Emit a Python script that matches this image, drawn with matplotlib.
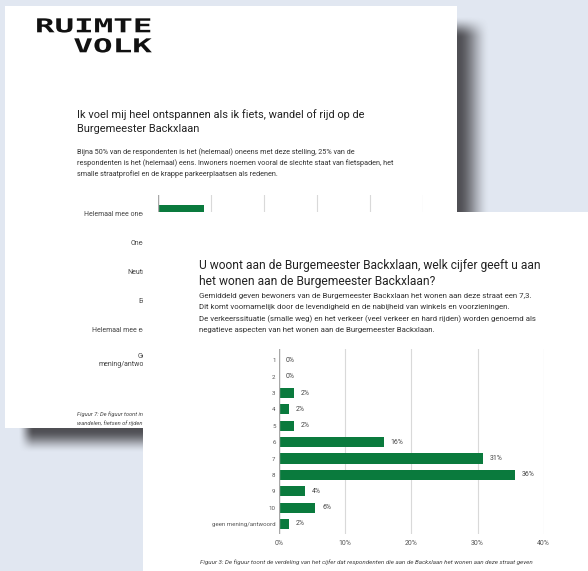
import matplotlib
matplotlib.use("Agg")
import matplotlib.pyplot as plt
import numpy as np
from matplotlib.patches import Rectangle
from matplotlib.patheffects import AbstractPathEffect
from matplotlib.transforms import Affine2D

plt.rcParams['font.family'] = ['Roboto', 'DejaVu Sans']

# ---------------- data ----------------
front_categories = ['1', '2', '3', '4', '5', '6', '7', '8', '9', '10', 'geen mening/antwoord']
front_values = [0, 0, 2.3, 1.5, 2.3, 15.8, 30.9, 35.7, 3.9, 5.5, 1.5]
front_value_labels = ['0%', '0%', '2%', '2%', '2%', '16%', '31%', '36%', '4%', '6%', '2%']
front_ticks = [0, 10, 20, 30, 40]

back_categories = ['Helemaal mee oneens', 'Oneens', 'Neutraal', 'Eens',
                   'Helemaal mee eens', 'Geen\nmening/antwoord']
back_values = [8.7, 39, 22, 20, 5, 5]
back_ticks = [0, 10, 20, 30, 40, 50]

logo_lines = ['RUIMTE', 'VOLK']
back_title = ['Ik voel mij heel ontspannen als ik fiets, wandel of rijd op de',
              'Burgemeester Backxlaan']
back_body = ['Bijna 50% van de respondenten is het (helemaal) oneens met deze stelling, 25% van de',
             'respondenten is het (helemaal) eens. Inwoners noemen vooral de slechte staat van fietspaden, het',
             'smalle straatprofiel en de krappe parkeerplaatsen als redenen.']
back_caption = ['Figuur 7: De figuur toont in hoeverre respondenten zich ontspannen voelen bij het',
                'wandelen, fietsen of rijden op de Burgemeester Backxlaan']
front_title = ['U woont aan de Burgemeester Backxlaan, welk cijfer geeft u aan',
               'het wonen aan de Burgemeester Backxlaan?']
front_body = ['Gemiddeld geven bewoners van de Burgemeester Backxlaan het wonen aan deze straat een 7,3.',
              'Dit komt voornamelijk door de levendigheid en de nabijheid van winkels en voorzieningen.',
              'De verkeerssituatie (smalle weg) en het verkeer (veel verkeer en hard rijden) worden genoemd als',
              'negatieve aspecten van het wonen aan de Burgemeester Backxlaan.']
front_caption = 'Figuur 3: De figuur toont de verdeling van het cijfer dat respondenten die aan de Backxlaan het wonen aan deze straat geven'

# ---------------- style ----------------
BG = '#e1e7f1'
GREEN = '#0a7a3d'
GRID = '#d9d9d9'
AXLINE = '#a8a8a8'
TXT = '#222222'
BODY = '#333333'
TICK = '#555555'
SHADOW = (0.31, 0.31, 0.33)

W, H = 588, 571
fig = plt.figure(figsize=(W / 100, H / 100), dpi=100)
fig.patch.set_facecolor(BG)
R = fig.canvas.get_renderer()


def px_axes(x0, y0, x1, y1, z):
    return fig.add_axes([x0 / W, 1 - y1 / H, (x1 - x0) / W, (y1 - y0) / H], zorder=z)


def canvas_axes(z):
    a = fig.add_axes([0, 0, 1, 1], zorder=z)
    a.set_xlim(0, W)
    a.set_ylim(H, 0)
    a.set_aspect('auto')
    a.axis('off')
    a.patch.set_visible(False)
    return a


def width_at(s, size, **kw):
    t = fig.text(0, 0, s, fontsize=size, **kw)
    w = t.get_window_extent(renderer=R).width
    t.remove()
    return w


def fitsize(s, target, **kw):
    return 10 * target / width_at(s, 10, **kw)


class HStretch(AbstractPathEffect):
    def __init__(self, sx):
        super().__init__()
        self.sx = sx

    def draw_path(self, renderer, gc, tpath, affine, rgbFace=None):
        renderer.draw_path(gc, tpath, Affine2D().scale(self.sx, 1.0) + affine, rgbFace)


# ---------------- back page ----------------
ax0 = canvas_axes(0)
xs = np.arange(W) + 0.5
ys = np.arange(H) + 0.5


def ramp(v, a, b):
    t = np.clip((v - a) / (b - a), 0, 1)
    return t * t * (3 - 2 * t)


alpha = np.outer(ramp(ys, 16, 38) * (1 - ramp(ys, 430, 453)),
                 ramp(xs, 18, 34) * (1 - ramp(xs, 458, 490)))
rgba = np.zeros((H, W, 4))
rgba[..., 0], rgba[..., 1], rgba[..., 2] = SHADOW
rgba[..., 3] = alpha
ax0.imshow(rgba, extent=(0, W, H, 0), zorder=1, interpolation='bilinear', aspect='auto')
ax0.set_xlim(0, W)
ax0.set_ylim(H, 0)
ax0.add_patch(Rectangle((5, 6), 452, 422, facecolor='white', edgecolor='none', zorder=2))

# logo
logo_kw = dict(family='DejaVu Sans Mono', weight='bold')
logo_size = 13.8
for s, x, yb, wt in [(logo_lines[0], 35, 32.3, 117), (logo_lines[1], 73.3, 52.3, 78.4)]:
    sx = wt / width_at(s, logo_size, **logo_kw)
    t = ax0.text(x, yb, s, fontsize=logo_size, color='#111111', ha='left', va='baseline',
                 zorder=3, **logo_kw)
    t.set_path_effects([HStretch(sx)])

bt_size = fitsize(back_title[0], 286)
for s, y in zip(back_title, [115, 128.5]):
    ax0.text(76.7, y, s, fontsize=bt_size, color=TXT, ha='left', va='center', zorder=3)
bb_size = fitsize(back_body[1], 319)
for s, y in zip(back_body, [151.7, 163.3, 174.5]):
    ax0.text(76.7, y, s, fontsize=bb_size, color=BODY, ha='left', va='center', zorder=3)
bc_size = fitsize('Figuur 7: De figuur toont in', 66, style='italic')
for s, y in zip(back_caption, [414.3, 423.3]):
    ax0.text(76.7, y, s, fontsize=bc_size, color='#444444', style='italic',
             ha='left', va='center', zorder=3)

# back chart
axb = px_axes(158, 195, 423, 372, 1)
yb_pos = np.arange(len(back_categories))
axb.barh(yb_pos, back_values, height=0.62, color=GREEN, zorder=3)
axb.set_xlim(0, 50)
axb.set_ylim(-0.655 + 177 / 29, -0.655)
axb.set_xticks(back_ticks)
axb.set_xticklabels([])
axb.grid(axis='x', color=GRID, lw=0.8, zorder=0)
axb.axvline(0, color=AXLINE, lw=1, zorder=4)
for sp in axb.spines.values():
    sp.set_visible(False)
axb.set_yticks(yb_pos)
bl_size = fitsize('mening/antwoord', 56)
axb.set_yticklabels(back_categories, fontsize=bl_size, color='#444444')
axb.tick_params(length=0, pad=3)
axb.patch.set_visible(False)

# ---------------- front page ----------------
ax2 = canvas_axes(2)
ax2.add_patch(Rectangle((143, 212), 450, 365, facecolor='white', edgecolor='none', zorder=1))
ft_size = fitsize(front_title[0], 343)
for s, y in zip(front_title, [265, 281.5]):
    ax2.text(199.3, y, s, fontsize=ft_size, color=TXT, ha='left', va='center', zorder=3)
fb_size = fitsize(front_body[0], 334)
for s, y in zip(front_body, [296.3, 307.5, 318.8, 330.2]):
    ax2.text(199.3, y, s, fontsize=fb_size, color=BODY, ha='left', va='center', zorder=3)
fc_size = fitsize(front_caption, 330.7, style='italic')
ax2.text(200, 562, front_caption, fontsize=fc_size, color='#444444', style='italic',
         ha='left', va='center', zorder=3)

# front chart
axf = px_axes(279, 349, 543.7, 534, 3)
yf_pos = np.arange(len(front_categories))
axf.barh(yf_pos, front_values, height=0.62, color=GREEN, zorder=3)
axf.set_xlim(0, 40)
axf.set_ylim(-0.69 + 185 / 16.37, -0.69)
axf.grid(axis='x', color=GRID, lw=0.8, zorder=0)
axf.axvline(0, color=AXLINE, lw=1, zorder=4)
for sp in axf.spines.values():
    sp.set_visible(False)
fl_size = fitsize('geen mening/antwoord', 64)
pct_size = fl_size * 1.12
axf.set_yticks(yf_pos)
axf.set_yticklabels(front_categories, fontsize=fl_size, color=TICK)
axf.set_xticks(front_ticks)
axf.set_xticklabels([f'{t}%' for t in front_ticks], fontsize=pct_size, color=TICK)
axf.tick_params(axis='y', length=0, pad=2.5)
axf.tick_params(axis='x', length=0, pad=4.5)
for i, (v, lab) in enumerate(zip(front_values, front_value_labels)):
    axf.annotate(lab, (v, i), xytext=(4.8, 0), textcoords='offset points',
                 fontsize=pct_size, color='#444444', ha='left', va='center', zorder=5)
axf.patch.set_visible(False)

fig.savefig('out.png', dpi=100, facecolor=BG)
